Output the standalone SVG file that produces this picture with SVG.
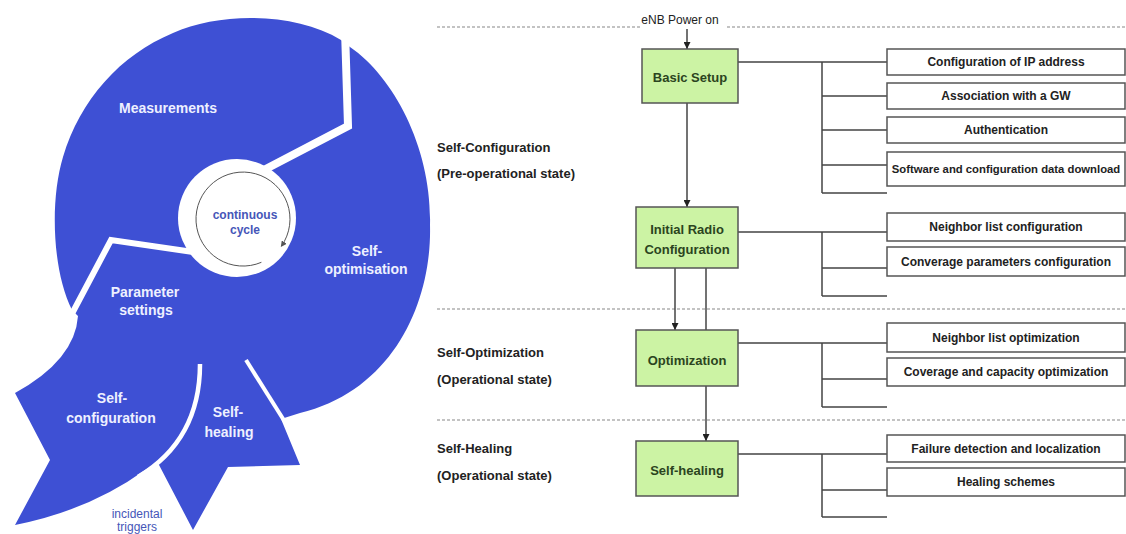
<svg xmlns="http://www.w3.org/2000/svg" width="1126" height="534" viewBox="0 0 1126 534">
<style>
.blue{fill:#3e50d4}
.cut{fill:none;stroke:#fff;stroke-linejoin:miter}
.wl{font-family:"Liberation Sans",Arial,sans-serif;font-weight:bold;font-size:14px;fill:#eef0ff;text-anchor:middle}
.bl{font-family:"Liberation Sans",Arial,sans-serif;font-weight:bold;font-size:12px;fill:#4656b8;text-anchor:middle}
.lbl{font-family:"Liberation Sans",Arial,sans-serif;font-weight:bold;font-size:13px;fill:#222}
.box rect{fill:#ccf3a4;stroke:#555;stroke-width:1.5}
.box text{font-family:"Liberation Sans",Arial,sans-serif;font-weight:bold;font-size:13px;fill:#2b4420;text-anchor:middle}
.sub rect{fill:#fff;stroke:#555;stroke-width:1.5}
.sub text{font-family:"Liberation Sans",Arial,sans-serif;font-weight:bold;font-size:12px;fill:#222;text-anchor:middle}
.conn{stroke:#444;stroke-width:1.5;fill:none}
.dash{stroke:#888;stroke-width:1.2;stroke-dasharray:3 2;fill:none}
.top{font-family:"Liberation Sans",Arial,sans-serif;font-size:12px;fill:#222;text-anchor:middle}
</style>
<defs>
<marker id="ah" viewBox="0 0 10 10" refX="10" refY="5" markerWidth="7" markerHeight="7" markerUnits="userSpaceOnUse" orient="auto"><path d="M0,0 L10,5 L0,10 z" fill="#222"/></marker>
<marker id="ah2" viewBox="0 0 10 10" refX="8" refY="5" markerWidth="6" markerHeight="6" markerUnits="userSpaceOnUse" orient="auto"><path d="M0,0 L10,5 L0,10 z" fill="#555"/></marker>
</defs>
<rect width="1126" height="534" fill="#fff"/>

<g id="son-cycle">
<path class="blue" d="M72,310 C52,270 50,200 63,157 C80,100 120,55 173,33 C220,12 295,12 341,40 L350,47 C395,78 432,150 430,225 C432,300 395,390 300,413 L281,419 L300,465 L228,467 L193,530 L158,463 L145,470 Q90,510 15,525 L50,460 L15,393 Q75,360 78,316 Z"/>
<path class="cut" stroke-width="8" d="M345,30 L348,126 L260,172"/>
<path class="cut" stroke-width="6" d="M200,253 L111,240 L66,325"/>
<path class="cut" stroke-width="4.5" d="M200,364 Q200,440 138,477"/>
<path class="cut" stroke-width="4" d="M246,360 L285,422"/>
<circle cx="237" cy="218" r="59" fill="#fff"/>
<path d="M261.4,262.3 A47,47 0 1 1 281.5,246" stroke="#555" stroke-width="1" fill="none" marker-end="url(#ah2)"/>
<text class="bl" x="245" y="219">continuous</text>
<text class="bl" x="245" y="234">cycle</text>
<text class="wl" x="168" y="113">Measurements</text>
<text class="wl" x="367" y="256">Self-</text>
<text class="wl" x="366" y="274">optimisation</text>
<text class="wl" x="145" y="297">Parameter</text>
<text class="wl" x="146" y="315">settings</text>
<text class="wl" x="112" y="403">Self-</text>
<text class="wl" x="111" y="423">configuration</text>
<text class="wl" x="228" y="417">Self-</text>
<text class="wl" x="229" y="437">healing</text>
<text class="bl" x="137" y="518" style="font-weight:normal;font-size:12px">incidental</text>
<text class="bl" x="137" y="531" style="font-weight:normal;font-size:12px">triggers</text>
</g>

<g id="phases">
<path class="dash" d="M437,27 H640 M727,27 H1126 M437,309 H1126 M437,420 H1126"/>
<text class="top" x="680" y="24">eNB Power on</text>
<text class="lbl" x="437" y="152">Self-Configuration</text>
<text class="lbl" x="437" y="178">(Pre-operational state)</text>
<text class="lbl" x="437" y="357">Self-Optimization</text>
<text class="lbl" x="437" y="384">(Operational state)</text>
<text class="lbl" x="437" y="453">Self-Healing</text>
<text class="lbl" x="437" y="480">(Operational state)</text>
</g>

<g id="connectors">
<line class="conn" x1="687" y1="29" x2="687" y2="49" marker-end="url(#ah)"/>
<line class="conn" x1="687" y1="103" x2="687" y2="207" marker-end="url(#ah)"/>
<line class="conn" x1="675" y1="268" x2="675" y2="330" marker-end="url(#ah)"/>
<line class="conn" x1="706" y1="268" x2="706" y2="330"/>
<line class="conn" x1="706" y1="386" x2="706" y2="441" marker-end="url(#ah)"/>
<path class="conn" d="M738,62 H887 M822,62 V193 M822,96 H887 M822,130 H887 M822,165 H887 M822,193 H887"/>
<path class="conn" d="M738,232 H887 M822,232 V296 M822,268 H887 M822,296 H887"/>
<path class="conn" d="M738,343 H887 M822,343 V407 M822,379 H887 M822,407 H887"/>
<path class="conn" d="M738,454 H887 M822,454 V517 M822,490 H887 M822,517 H887"/>
</g>

<g id="basic-setup" class="box"><rect x="642" y="49" width="96" height="54"/><text x="690" y="82">Basic Setup</text></g>
<g id="initial-radio" class="box"><rect x="636" y="207" width="102" height="61"/><text x="687" y="234">Initial Radio</text><text x="687" y="254">Configuration</text></g>
<g id="optimization" class="box"><rect x="636" y="330" width="102" height="56"/><text x="687" y="365">Optimization</text></g>
<g id="self-healing" class="box"><rect x="636" y="441" width="102" height="55"/><text x="687" y="475">Self-healing</text></g>

<g id="ip-address" class="sub"><rect x="887" y="49" width="238" height="26"/><text x="1006" y="66">Configuration of IP address</text></g>
<g id="gw-association" class="sub"><rect x="887" y="83" width="238" height="26"/><text x="1006" y="100">Association with a GW</text></g>
<g id="authentication" class="sub"><rect x="887" y="117" width="238" height="26"/><text x="1006" y="134">Authentication</text></g>
<g id="sw-download" class="sub"><rect x="887" y="152" width="238" height="34"/><text x="1006" y="173" style="font-size:11.3px">Software and configuration data download</text></g>
<g id="neighbor-config" class="sub"><rect x="887" y="213" width="238" height="28"/><text x="1006" y="231">Neighbor list configuration</text></g>
<g id="coverage-config" class="sub"><rect x="887" y="247" width="238" height="29"/><text x="1006" y="266">Converage parameters configuration</text></g>
<g id="neighbor-opt" class="sub"><rect x="887" y="323" width="238" height="29"/><text x="1006" y="342">Neighbor list optimization</text></g>
<g id="cco" class="sub"><rect x="887" y="358" width="238" height="28"/><text x="1006" y="376">Coverage and capacity optimization</text></g>
<g id="failure-detection" class="sub"><rect x="887" y="435" width="238" height="27"/><text x="1006" y="453">Failure detection and localization</text></g>
<g id="healing-schemes" class="sub"><rect x="887" y="468" width="238" height="28"/><text x="1006" y="486">Healing schemes</text></g>
</svg>
